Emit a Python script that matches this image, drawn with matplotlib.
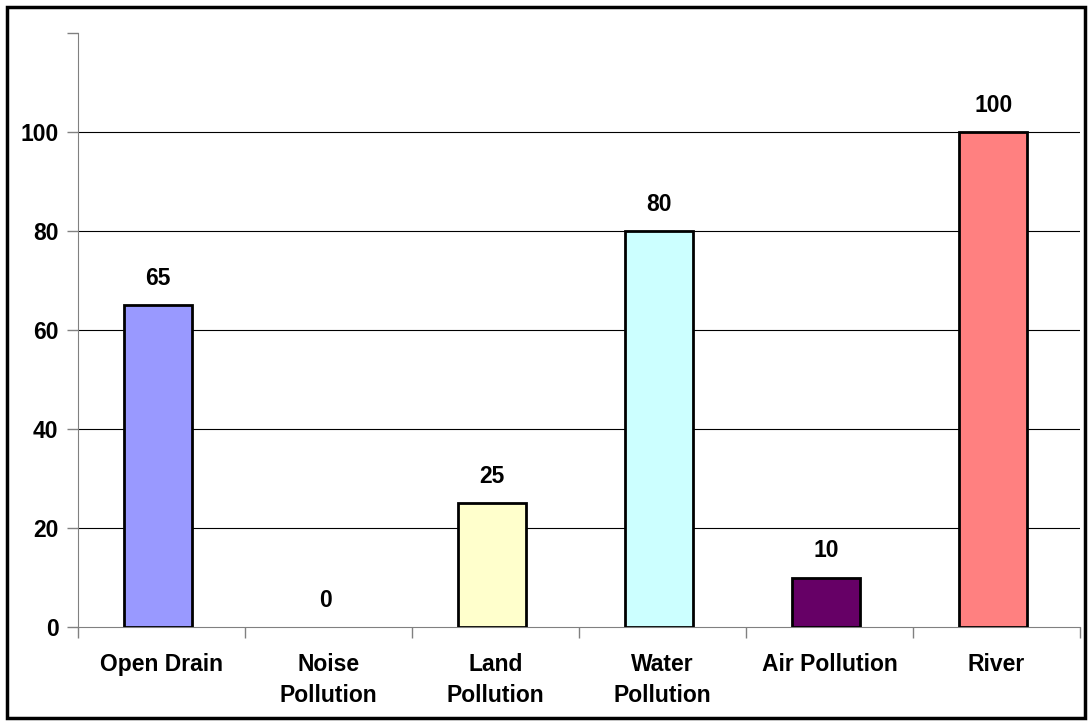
import matplotlib.pyplot as plt
from matplotlib.patches import Rectangle

plt.rcParams["font.family"] = ["Liberation Sans", "DejaVu Sans"]
plt.rcParams["font.weight"] = "bold"

categorias = ["Open Drain", "Noise\nPollution", "Land\nPollution",
              "Water\nPollution", "Air Pollution", "River"]
valores = [65, 0, 25, 80, 10, 100]
colores = ["#9999FF", "#9999FF", "#FFFFCC", "#CCFFFF", "#660066", "#FF8080"]
yticks = [0, 20, 40, 60, 80, 100, 120]
ytick_labels = ["0", "20", "40", "60", "80", "100", ""]

fig = plt.figure(figsize=(10.92, 7.25), dpi=100)
ax = fig.add_axes([78 / 1092, 98 / 725, 1002 / 1092, 594 / 725])

x = list(range(len(categorias)))
for xi, v, c in zip(x, valores, colores):
    if v > 0:
        ax.bar(xi - 0.02, v, width=0.41, color=c, edgecolor="black",
               linewidth=2, zorder=3)
    ax.annotate(str(v), (xi - 0.02, v), xytext=(0, 11),
                textcoords="offset points", ha="center", va="bottom",
                fontsize=16.5, fontweight="bold")

ax.set_xlim(-0.5, len(categorias) - 0.5)
ax.set_ylim(0, 120)
ax.set_yticks(yticks)
ax.set_yticklabels(ytick_labels)

for y in yticks[1:-1]:
    ax.axhline(y, color="black", linewidth=0.8, zorder=1)

# etiquetas de categoría centradas, marcas en los bordes
ax.set_xticks([i - 0.5 for i in range(len(categorias) + 1)])
ax.set_xticklabels([])
for xi, nombre in zip(x, categorias):
    ax.text(xi, -5.3, nombre, ha="center", va="top", fontsize=16.5,
            fontweight="bold", linespacing=1.45)

ax.tick_params(axis="y", length=8, width=1, color="#808080", pad=6,
               labelsize=16.5)
ax.tick_params(axis="x", length=8, width=1, color="#808080")
for lab in ax.get_yticklabels():
    lab.set_fontweight("bold")

ax.spines["top"].set_visible(False)
ax.spines["right"].set_visible(False)
ax.spines["left"].set_color("#808080")
ax.spines["bottom"].set_color("#808080")

fig.patches.append(Rectangle((7 / 1092, 7 / 725), 1078 / 1092, 711 / 725,
                             transform=fig.transFigure, fill=False,
                             edgecolor="black", linewidth=2.5))

fig.savefig("out.png", dpi=100)
